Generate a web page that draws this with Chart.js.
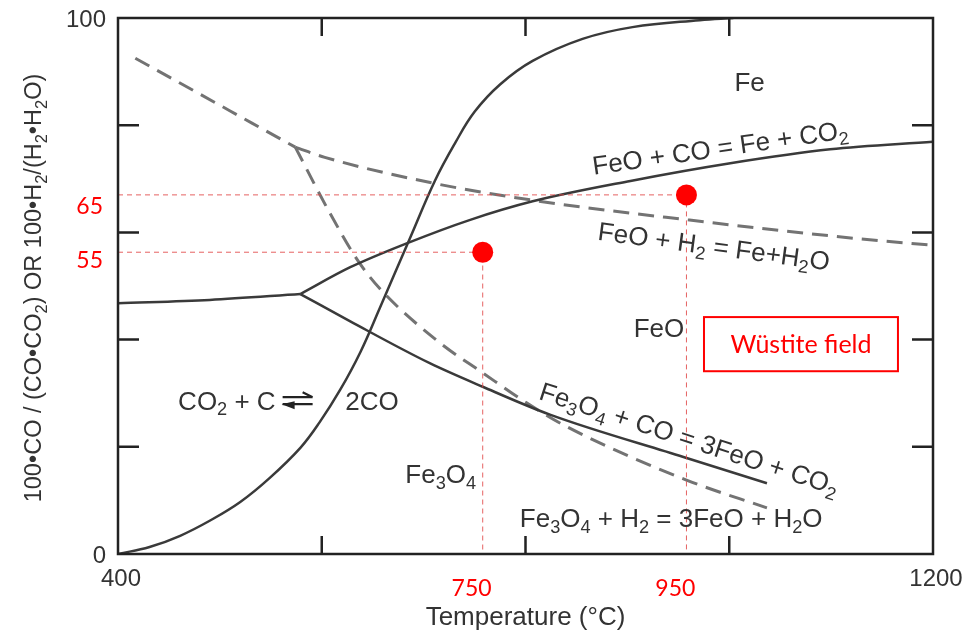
<!DOCTYPE html>
<html>
<head>
<meta charset="utf-8">
<script src="https://cdn.jsdelivr.net/npm/chart.js@4.4.1/dist/chart.umd.min.js"></script>
<style>
  html, body { margin: 0; padding: 0; background: #fff; }
  #wrap { width: 966px; height: 631px; }
</style>
</head>
<body>
<div id="wrap"><canvas id="phaseChart" width="966" height="631"></canvas></div>
<script>
// Fe-O-C / Fe-O-H equilibrium diagram
// temperature in °C, gas ratio in %

// CO2 + C = 2CO (Boudouard)
const boudT   = [400, 431, 461, 490, 520, 549, 579, 598, 618, 638, 657, 687, 711, 731, 750, 775, 807, 856, 905, 971, 1004];
const boudPct = [0, 1.3, 3.4, 6.2, 9.7, 14.2, 19.8, 24.6, 30.6, 37.7, 45.9, 59.1, 69.6, 76.7, 82.5, 87.6, 92.0, 96.1, 98.3, 99.6, 100];

// Fe3O4 + CO = Fe + CO2 (below the triple point)
const lowCoT   = [400, 490, 579];
const lowCoPct = [46.8, 47.4, 48.5];

// FeO + CO = Fe + CO2
const feoCoT   = [579, 628, 684, 745, 807, 903, 1001, 1099, 1200];
const feoCoPct = [48.5, 53.5, 58.0, 62.3, 65.8, 69.6, 72.9, 75.5, 76.9];

// Fe3O4 + CO = 3FeO + CO2
const magCoT   = [579, 628, 706, 758, 824, 955, 1037];
const magCoPct = [48.5, 43.4, 35.6, 31.2, 26.0, 18.1, 13.2];

// Fe3O4 + H2 = Fe + H2O (below the triple point)
const lowH2T   = [417, 574];
const lowH2Pct = [92.5, 75.9];

// FeO + H2 = Fe + H2O
const feoH2T   = [574, 603, 709, 807, 961, 1128, 1200];
const feoH2Pct = [75.9, 74.0, 69.2, 66.0, 62.3, 58.8, 57.6];

// Fe3O4 + H2 = 3FeO + H2O
const magH2T   = [574, 608, 637, 660, 716, 758, 801, 841, 958, 1037];
const magH2Pct = [75.9, 63.6, 54.3, 48.9, 39.4, 33.8, 28.2, 23.7, 13.8, 8.6];

// marked operating points
const markT   = [758, 958];
const markPct = [56.3, 67];

// axis labels
const xTickLabels = [400, 1200];
const yTickLabels = [0, 100];
const xInnerTicks = [600, 800, 1000];
const yInnerTicks = [20, 40, 60, 80];
const xRedLabels = [750, 950];
const yRedLabels = [55, 65];

const FONT = '"Liberation Sans", Arial, sans-serif';
const RED_FONT = 'Lato, "Open Sans", sans-serif';
const INK = '#333';
const RED = '#f00';

function zip(xs, ys) {
  return xs.map((x, i) => ({ x: x, y: ys[i] }));
}

// text labels inside the diagram (anchor in data units, text centre)
const regionLabels = [
  { text: 'Fe', t: 1020, p: 88.1, angle: 0 },
  { text: 'FeO + CO = Fe + CO_2', t: 991, p: 75.9, angle: -8.2 },
  { text: 'FeO + H_2 = Fe+H_2O', t: 985, p: 57.5, angle: 7.5 },
  { text: 'FeO', t: 931, p: 42.2, angle: 0 },
  { text: 'Fe_3O_4 + CO = 3FeO + CO_2', t: 961, p: 21.6, angle: 18 },
  { text: 'Fe_3O_4 + H_2 = 3FeO + H_2O', t: 943, p: 6.8, angle: 0 }
];

function richParts(str) {
  const parts = [];
  let buf = '';
  let i = 0;
  while (i < str.length) {
    if (str[i] === '_') {
      if (buf) parts.push({ s: buf, sub: false });
      buf = '';
      i++;
      let sub = '';
      while (i < str.length && /[0-9]/.test(str[i])) sub += str[i++];
      parts.push({ s: sub, sub: true });
    } else {
      buf += str[i++];
    }
  }
  if (buf) parts.push({ s: buf, sub: false });
  return parts;
}

// draws text with subscripts, (x, y) = middle of the capitals
function drawRich(ctx, str, x, y, opt) {
  const size = opt.size;
  const font = opt.font || FONT;
  const subSize = size * 0.7;
  const parts = richParts(str);
  let w = 0;
  parts.forEach(p => {
    ctx.font = (p.sub ? subSize : size) + 'px ' + font;
    p.w = ctx.measureText(p.s).width;
    w += p.w;
  });
  ctx.save();
  ctx.translate(x, y);
  ctx.rotate((opt.angle || 0) * Math.PI / 180);
  let cx = opt.align === 'left' ? 0 : opt.align === 'right' ? -w : -w / 2;
  const base = size * 0.36;
  ctx.fillStyle = opt.color || INK;
  ctx.textAlign = 'left';
  ctx.textBaseline = 'alphabetic';
  parts.forEach(p => {
    ctx.font = (p.sub ? subSize : size) + 'px ' + font;
    ctx.fillText(p.s, cx, p.sub ? base + size * 0.22 : base);
    cx += p.w;
  });
  ctx.restore();
  return w;
}

const decorPlugin = {
  id: 'decor',
  afterDatasetsDraw(chart) {
    const ctx = chart.ctx;
    const a = chart.chartArea;
    const xs = chart.scales.x;
    const ys = chart.scales.y;

    // frame
    ctx.save();
    ctx.strokeStyle = '#222';
    ctx.lineWidth = 2.5;
    ctx.strokeRect(a.left, a.top, a.right - a.left, a.bottom - a.top);

    // inward ticks
    ctx.beginPath();
    xInnerTicks.forEach(v => {
      const px = xs.getPixelForValue(v);
      ctx.moveTo(px, a.bottom); ctx.lineTo(px, a.bottom - 18);
      ctx.moveTo(px, a.top); ctx.lineTo(px, a.top + 18);
    });
    yInnerTicks.forEach(v => {
      const py = ys.getPixelForValue(v);
      ctx.moveTo(a.left, py); ctx.lineTo(a.left + 21, py);
      ctx.moveTo(a.right, py); ctx.lineTo(a.right - 21, py);
    });
    ctx.stroke();
    ctx.restore();

    // axis numbers
    ctx.save();
    ctx.fillStyle = INK;
    ctx.font = '24px ' + FONT;
    ctx.textAlign = 'right';
    ctx.textBaseline = 'middle';
    yTickLabels.forEach(v => {
      ctx.fillText(String(v), a.left - 12, ys.getPixelForValue(v) + 2);
    });
    ctx.textAlign = 'center';
    ctx.textBaseline = 'top';
    xTickLabels.forEach(v => {
      ctx.fillText(String(v), xs.getPixelForValue(v) + 3, a.bottom + 13);
    });
    ctx.restore();

    // axis titles
    drawRich(ctx, 'Temperature (°C)', (a.left + a.right) / 2, a.bottom + 62, { size: 26 });
    drawRich(ctx, '100•CO / (CO•CO_2) OR 100•H_2/(H_2•H_2O)', a.left - 85, 288,
      { size: 23.5, angle: -90 });

    // red value labels
    ctx.save();
    ctx.fillStyle = RED;
    ctx.font = '23px ' + RED_FONT;
    ctx.textAlign = 'right';
    ctx.textBaseline = 'middle';
    yRedLabels.forEach(v => {
      ctx.fillText(String(v), a.left - 15, ys.getPixelForValue(v) + 1);
    });
    ctx.textAlign = 'center';
    xRedLabels.forEach(v => {
      ctx.fillText(String(v), xs.getPixelForValue(v) - 3, a.bottom + 35);
    });
    ctx.restore();

    // region / reaction labels
    regionLabels.forEach(l => {
      drawRich(ctx, l.text, xs.getPixelForValue(l.t), ys.getPixelForValue(l.p),
        { size: 26, angle: l.angle });
    });
    drawRich(ctx, 'Fe_3O_4', xs.getPixelForValue(682), ys.getPixelForValue(14.9),
      { size: 26, align: 'left' });

    // CO2 + C <=> 2CO
    const bx = xs.getPixelForValue(459);
    const by = ys.getPixelForValue(28.7);
    const w = drawRich(ctx, 'CO_2 + C', bx, by, { size: 26, align: 'left' });
    const ax = bx + w + 7;
    ctx.save();
    ctx.strokeStyle = '#222';
    ctx.fillStyle = '#222';
    ctx.lineWidth = 2.2;
    ctx.beginPath();
    ctx.moveTo(ax, by - 3); ctx.lineTo(ax + 30, by - 3);
    ctx.moveTo(ax + 30, by - 3); ctx.lineTo(ax + 20, by - 8);
    ctx.moveTo(ax, by + 4); ctx.lineTo(ax + 30, by + 4);
    ctx.stroke();
    ctx.beginPath();
    ctx.moveTo(ax - 1, by + 4); ctx.lineTo(ax + 12, by + 1); ctx.lineTo(ax + 12, by + 9); ctx.closePath();
    ctx.fill();
    ctx.restore();
    drawRich(ctx, '2CO', xs.getPixelForValue(623), by, { size: 26, align: 'left' });

    // Wüstite field box
    const x0 = xs.getPixelForValue(975.2), x1 = xs.getPixelForValue(1165.6);
    const y0 = ys.getPixelForValue(44.2), y1 = ys.getPixelForValue(34.1);
    ctx.save();
    ctx.strokeStyle = RED;
    ctx.lineWidth = 2;
    ctx.strokeRect(x0, y0, x1 - x0, y1 - y0);
    ctx.restore();
    drawRich(ctx, 'Wüstite field', (x0 + x1) / 2, (y0 + y1) / 2, { size: 25, font: RED_FONT, color: RED });
  }
};

function solid(data) {
  return { data: data, borderColor: '#3a3a3a', borderWidth: 2.5, pointRadius: 0,
    fill: false, showLine: true, cubicInterpolationMode: 'monotone', order: 3 };
}
function dashed(data) {
  return { data: data, borderColor: '#737373', borderWidth: 3, borderDash: [16, 9], pointRadius: 0,
    fill: false, showLine: true, cubicInterpolationMode: 'monotone', order: 3 };
}
function guide(t, p) {
  return { data: [{ x: 400, y: p }, { x: t, y: p }, { x: t, y: 0 }], borderColor: 'rgba(225,70,70,0.85)',
    borderWidth: 1, borderDash: [5, 4], pointRadius: 0, fill: false, showLine: true, tension: 0, order: 2 };
}

// Boudouard curve: smooth spline instead of monotone
const boudSet = solid(zip(boudT, boudPct));
boudSet.cubicInterpolationMode = 'default';
boudSet.tension = 0.4;

const datasets = [
  boudSet,
  solid(zip(lowCoT, lowCoPct)),
  solid(zip(feoCoT, feoCoPct)),
  solid(zip(magCoT, magCoPct)),
  dashed(zip(lowH2T, lowH2Pct)),
  dashed(zip(feoH2T, feoH2Pct)),
  dashed(zip(magH2T, magH2Pct)),
  guide(markT[0], markPct[0]),
  guide(markT[1], markPct[1]),
  { data: zip(markT, markPct), showLine: false, pointRadius: 10.5, pointBackgroundColor: RED,
    pointBorderWidth: 0, borderColor: RED, order: 1 }
];

new Chart(document.getElementById('phaseChart'), {
  type: 'scatter',
  data: { datasets: datasets },
  options: {
    responsive: false,
    devicePixelRatio: 1,
    animation: false,
    layout: { padding: { left: 118, right: 33, top: 18, bottom: 77 } },
    plugins: { legend: { display: false }, tooltip: { enabled: false } },
    scales: {
      x: { type: 'linear', min: 400, max: 1200, display: false },
      y: { type: 'linear', min: 0, max: 100, display: false }
    }
  },
  plugins: [decorPlugin]
});
</script>
</body>
</html>
